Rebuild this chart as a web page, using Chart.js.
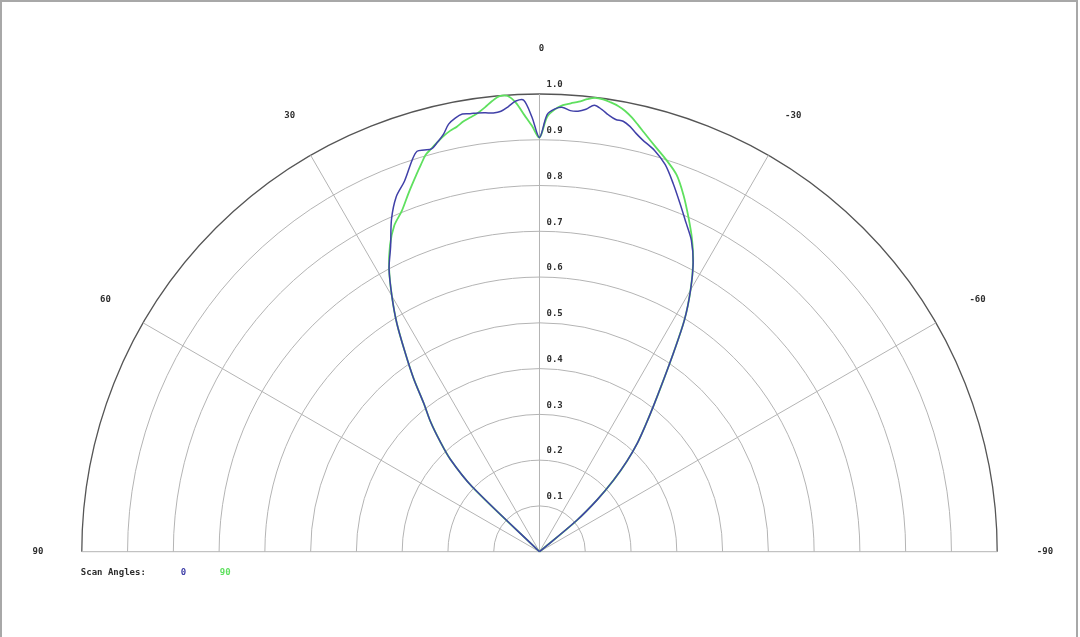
<!DOCTYPE html>
<html>
<head>
<meta charset="utf-8">
<title>Scan Angles</title>
<script src="https://cdn.jsdelivr.net/npm/chart.js@4.4.1/dist/chart.umd.min.js"></script>
<style>
  html, body { margin: 0; padding: 0; background: #fff; }
  #wrap { width: 1080px; height: 637px; position: relative; }
</style>
</head>
<body>
<div id="wrap"><canvas id="polar"></canvas></div>
<script>
/* ------------------
    Data
-------------------*/
// angle in degrees, positive = left of the 0 line
var angles = [90, 48, 46, 44, 42, 40, 38, 36, 34, 32, 30, 28, 26, 24, 22, 20, 18, 17, 16, 15,
  14, 13, 12, 11, 10, 9, 8, 7, 6, 5, 4, 3, 2, 1, 0, -1, -2, -3, -4, -5,
  -6, -7, -8, -9, -10, -11, -12, -13, -14, -16, -18, -20, -22, -24, -26, -28, -30, -32, -34, -36,
  -38, -40, -42, -44, -46, -48, -50, -51, -90];

var scan0 = [0, 0, 0.205, 0.28, 0.325, 0.37, 0.41, 0.468, 0.525, 0.588, 0.645, 0.70, 0.742, 0.795, 0.836, 0.862, 0.90, 0.915, 0.913, 0.911,
  0.922, 0.935, 0.955, 0.965, 0.971, 0.969, 0.968, 0.966, 0.964, 0.966, 0.975, 0.986, 0.987, 0.95, 0.905, 0.955, 0.968, 0.972, 0.966, 0.966,
  0.972, 0.983, 0.976, 0.966, 0.959, 0.958, 0.95, 0.938, 0.928, 0.912, 0.889, 0.855, 0.82, 0.787, 0.757, 0.715, 0.66, 0.598, 0.523, 0.458,
  0.405, 0.36, 0.32, 0.275, 0.225, 0.17, 0.105, 0, 0];

var scan90 = [0, 0, 0.205, 0.28, 0.325, 0.37, 0.41, 0.468, 0.525, 0.588, 0.645, 0.70, 0.745, 0.78, 0.803, 0.835, 0.868, 0.885, 0.902, 0.912,
  0.922, 0.932, 0.94, 0.946, 0.955, 0.961, 0.968, 0.978, 0.99, 0.999, 0.998, 0.982, 0.955, 0.93, 0.905, 0.95, 0.967, 0.977, 0.982, 0.987,
  0.994, 0.999, 0.998, 0.994, 0.989, 0.981, 0.97, 0.957, 0.944, 0.92, 0.899, 0.876, 0.84, 0.80, 0.76, 0.715, 0.66, 0.598, 0.523, 0.458,
  0.405, 0.36, 0.32, 0.275, 0.225, 0.17, 0.105, 0, 0];

var ringValues = [0.1, 0.2, 0.3, 0.4, 0.5, 0.6, 0.7, 0.8, 0.9, 1.0];
var ringLabels = ['0.1', '0.2', '0.3', '0.4', '0.5', '0.6', '0.7', '0.8', '0.9', '1.0'];
var spokeAngles = [90, 60, 30, 0, -30, -60, -90];
var spokeLabels = ['90', '60', '30', '0', '-30', '-60', '-90'];
var seriesNames = ['0', '90'];

var BLUE = '#4040a8';
var GREEN = '#5fe05f';
var TXT = '#2e2e2e';
var FONT = 'bold 9px "DejaVu Sans Mono", monospace';

//polar -> x/y, angle positive to the left
function toXY(angs, vals) {
    return angs.map(function (a, i) {
        var t = a * Math.PI / 180;
        return { x: -vals[i] * Math.sin(t), y: vals[i] * Math.cos(t) };
    });
}

/* ------------------
    Polar grid plugin
-------------------*/
var polarGrid = {
    id: 'polarGrid',
    beforeDatasetsDraw: function (chart) {
        var ctx = chart.ctx, sx = chart.scales.x, sy = chart.scales.y;
        var cx = sx.getPixelForValue(0), cy = sy.getPixelForValue(0);
        var R = sx.getPixelForValue(1) - cx;
        ctx.save();

        // rings
        ringValues.forEach(function (r, i) {
            ctx.beginPath();
            ctx.arc(cx, cy, r * R, Math.PI, 2 * Math.PI);
            var outer = i === ringValues.length - 1;
            ctx.strokeStyle = outer ? '#555' : '#b4b4b4';
            ctx.lineWidth = outer ? 1.3 : 1;
            ctx.stroke();
        });

        // spokes
        ctx.strokeStyle = '#b4b4b4';
        ctx.lineWidth = 1;
        spokeAngles.forEach(function (a) {
            var t = a * Math.PI / 180;
            ctx.beginPath();
            ctx.moveTo(cx, cy);
            ctx.lineTo(sx.getPixelForValue(-Math.sin(t)), sy.getPixelForValue(Math.cos(t)));
            ctx.stroke();
        });

        // labels
        ctx.font = FONT;
        ctx.fillStyle = TXT;
        ctx.textBaseline = 'middle';
        ctx.textAlign = 'left';
        ringValues.forEach(function (r, i) {
            ctx.fillText(ringLabels[i], cx + 7, sy.getPixelForValue(r) - 9);
        });
        ctx.textAlign = 'center';
        spokeAngles.forEach(function (a, i) {
            var t = a * Math.PI / 180;
            ctx.fillText(spokeLabels[i], sx.getPixelForValue(-1.1 * Math.sin(t)) + 2, sy.getPixelForValue(1.1 * Math.cos(t)));
        });
        ctx.restore();
    },
    afterDraw: function (chart) {
        var ctx = chart.ctx, sx = chart.scales.x, sy = chart.scales.y;
        var left = sx.getPixelForValue(-1), ly = sy.getPixelForValue(0) + 21;
        ctx.save();
        ctx.font = FONT;
        ctx.textBaseline = 'middle';
        ctx.textAlign = 'left';
        ctx.fillStyle = TXT;
        ctx.fillText('Scan Angles:', left - 1, ly);
        ctx.fillStyle = BLUE;
        ctx.fillText(seriesNames[0], left + 99, ly);
        ctx.fillStyle = GREEN;
        ctx.fillText(seriesNames[1], left + 138, ly);

        // frame
        ctx.strokeStyle = '#a8a8a8';
        ctx.lineWidth = 2;
        ctx.beginPath();
        ctx.moveTo(1, chart.height);
        ctx.lineTo(1, 1);
        ctx.lineTo(1077, 1);
        ctx.lineTo(1077, chart.height);
        ctx.stroke();
        ctx.restore();
    }
};

/* ------------------
    Chart
-------------------*/
var chart_P = new Chart(document.getElementById('polar'), {
    type: 'scatter',
    data: {
        datasets: [
            {
                label: seriesNames[0],
                data: toXY(angles, scan0),
                showLine: true,
                borderColor: BLUE,
                borderWidth: 1.5,
                pointRadius: 0,
                tension: 0.3
            },
            {
                label: seriesNames[1],
                data: toXY(angles, scan90),
                showLine: true,
                borderColor: GREEN,
                borderWidth: 1.8,
                pointRadius: 0,
                tension: 0.3
            }
        ]
    },
    options: {
        responsive: true,
        maintainAspectRatio: false,
        animation: false,
        devicePixelRatio: 1,
        layout: { padding: 0 },
        plugins: { legend: { display: false }, tooltip: { enabled: false } },
        scales: {
            x: { type: 'linear', min: -1.1787, max: 1.1809, display: false },
            y: { type: 'linear', min: -0.1864, max: 1.2054, display: false }
        }
    },
    plugins: [polarGrid]
});
</script>
</body>
</html>
